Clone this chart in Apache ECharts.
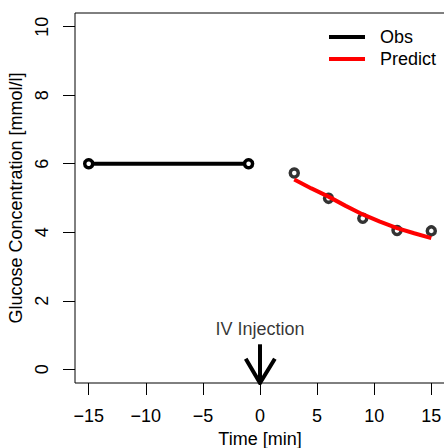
<!DOCTYPE html>
<html><head><meta charset="utf-8">
<script src="https://cdn.jsdelivr.net/npm/echarts@6/dist/echarts.min.js"></script>
<style>html,body{margin:0;padding:0;background:#fff}#c{width:444px;height:448px}</style>
</head><body><div id="c"></div>
<script>
// Observed glucose before injection
var obsPreTime = [-15, -1];
var obsPreValue = [6, 6];
// Observed glucose after injection
var obsPostTime = [3, 6, 9, 12, 15];
var obsPostValue = [5.73, 4.99, 4.41, 4.05, 4.04];
// Model prediction
var predTime = [3, 4.5, 6, 7.5, 9, 10.5, 12, 13.5, 15];
var predValue = [5.54, 5.28, 5.04, 4.77, 4.52, 4.31, 4.12, 3.97, 3.83];
// Injection arrow (shaft and head)
var arrowShaftX = [0, 0];
var arrowShaftY = [0.73, -0.4];
var arrowHeadX = [-1.25, 0, 1.3];
var arrowHeadY = [0.31, -0.4, 0.31];
var annotX = 0, annotY = 1.18, annotText = 'IV Injection';
// Tick labels
var xTicks = [-15, -10, -5, 0, 5, 10, 15];
var yTicks = [0, 2, 4, 6, 8, 10];
var yTitle = 'Glucose Concentration [mmol/l]';
var xTitle = 'Time [min]';

function zip(a, b) { return a.map(function (v, i) { return [v, b[i]]; }); }
function fmt(v) { return v < 0 ? '\u2212' + Math.abs(v) : String(v); }

var font = 'Liberation Sans';
var pointStyle = { color: '#fff', borderColor: '#000', borderWidth: 3.5 };
var chart = echarts.init(document.getElementById('c'), null, { renderer: 'svg' });
chart.setOption({
  animation: false,
  textStyle: { fontFamily: font },
  grid: { left: 75, top: 13, width: 370, bottom: 65, outerBoundsMode: 'none',
          show: true, borderColor: '#000', borderWidth: 1, backgroundColor: 'transparent' },
  legend: {
    orient: 'vertical', left: 329, top: 28, padding: 0, itemGap: 4,
    itemWidth: 36, itemHeight: 4, icon: 'rect',
    textStyle: { fontSize: 18, color: '#000', fontFamily: font, padding: [0, 0, 0, 10] },
    data: [
      { name: 'Obs', itemStyle: { color: '#000', borderWidth: 0 } },
      { name: 'Predict', itemStyle: { color: '#f00', borderWidth: 0 } }
    ]
  },
  graphic: [{
    type: 'text', x: 16, y: 198, rotation: Math.PI / 2, silent: true,
    style: { text: yTitle, fill: '#000', font: '18px "Liberation Sans"', align: 'center', verticalAlign: 'middle' }
  }],
  xAxis: {
    type: 'value', min: -16.2, max: 16.2,
    name: xTitle, nameLocation: 'middle', nameGap: 45,
    nameTextStyle: { fontSize: 18, color: '#000', fontFamily: font },
    axisLine: { show: false, onZero: false },
    splitLine: { show: false },
    axisTick: { show: true, length: 12, customValues: xTicks, lineStyle: { color: '#000', width: 1 } },
    axisLabel: { customValues: xTicks, margin: 24, fontSize: 18, color: '#000', fontFamily: font, formatter: fmt }
  },
  yAxis: {
    type: 'value', min: -0.4, max: 10.4,
    axisLine: { show: false, onZero: false },
    splitLine: { show: false },
    axisTick: { show: true, length: 12, customValues: yTicks, lineStyle: { color: '#000', width: 1 } },
    axisLabel: { customValues: yTicks, margin: 24, rotate: 90, fontSize: 18, color: '#000', fontFamily: font }
  },
  series: [
    {
      name: 'Obs', type: 'line', data: zip(obsPreTime, obsPreValue),
      symbol: 'circle', symbolSize: 8, color: '#000',
      itemStyle: pointStyle,
      lineStyle: { color: '#000', width: 4 }, z: 3
    },
    {
      name: 'ObsPost', type: 'scatter', data: zip(obsPostTime, obsPostValue),
      symbol: 'circle', symbolSize: 8, color: '#000',
      itemStyle: pointStyle, z: 2
    },
    {
      name: 'Predict', type: 'line', data: zip(predTime, predValue),
      showSymbol: false, symbol: 'none', color: '#f00',
      lineStyle: { color: '#f00', width: 4 }, z: 4
    },
    {
      name: 'arrowShaft', type: 'line', data: zip(arrowShaftX, arrowShaftY),
      symbol: 'none', lineStyle: { color: '#000', width: 4 }, z: 3
    },
    {
      name: 'arrowHead', type: 'line', data: zip(arrowHeadX, arrowHeadY),
      symbol: 'none', lineStyle: { color: '#000', width: 4, join: 'miter' }, z: 3
    },
    {
      name: 'annot', type: 'scatter', data: [[annotX, annotY]],
      symbolSize: 0, silent: true,
      label: { show: true, position: 'inside', formatter: annotText, fontSize: 18, color: '#000', fontFamily: font }
    }
  ]
});
</script></body></html>
